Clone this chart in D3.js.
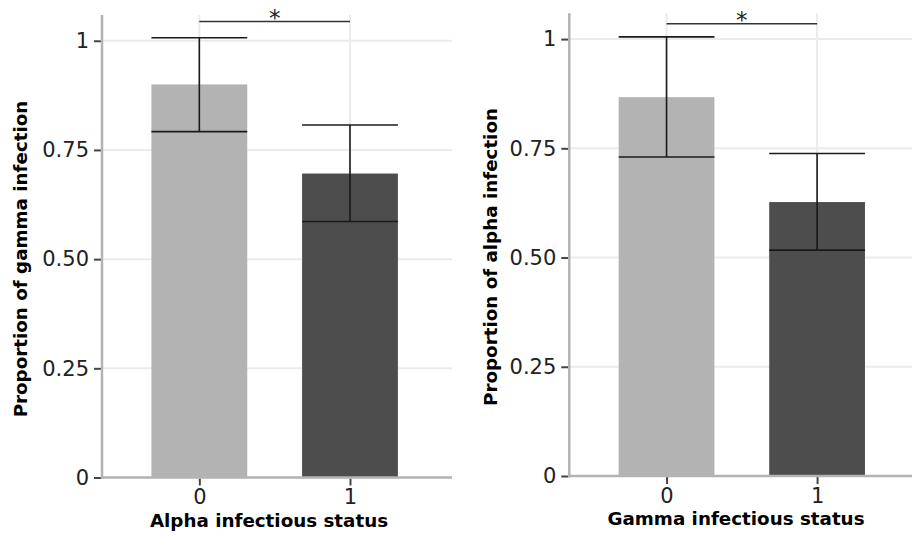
<!DOCTYPE html>
<html>
<head>
<meta charset="utf-8">
<script src="https://cdn.jsdelivr.net/npm/d3@7"></script>
<style>
  html, body { margin: 0; padding: 0; background: #fff; }
  svg { display: block; }
</style>
</head>
<body>
<svg id="chart" width="912" height="536"></svg>
<script>
// ---------- data ----------
const categories = ["0", "1"];

// Left panel: proportion of gamma infection by alpha infectious status
const gammaProp  = [0.900, 0.696];
const gammaLower = [0.792, 0.586];
const gammaUpper = [1.007, 0.807];
const gammaSig   = 1.044;

// Right panel: proportion of alpha infection by gamma infectious status
const alphaProp  = [0.867, 0.627];
const alphaLower = [0.730, 0.517];
const alphaUpper = [1.005, 0.738];
const alphaSig   = 1.035;

const yTickValues = [0, 0.25, 0.5, 0.75, 1];
const yTickLabels = ["0", "0.25", "0.50", "0.75", "1"];
const barColors   = ["#b3b3b3", "#4d4d4d"];
const sigLabel    = "*";

const titles = {
  left:  { x: "Alpha infectious status", y: "Proportion of gamma infection" },
  right: { x: "Gamma infectious status", y: "Proportion of alpha infection" }
};

// ---------- drawing ----------
const svg = d3.select("#chart");
const FONT = "'DejaVu Sans', Verdana, sans-serif";

function panel(opt) {
  const g = svg.append("g");
  const x = d3.scaleLinear().domain([-0.646, 1.677]).range([opt.x0, opt.x1]);
  const y = d3.scaleLinear().domain([0, 1.059]).range([opt.yBot, opt.yTop]);
  const halfW = 0.318;

  // gridlines
  g.selectAll("line.hgrid").data(yTickValues).join("line")
    .attr("x1", opt.x0).attr("x2", opt.x1)
    .attr("y1", d => y(d)).attr("y2", d => y(d))
    .attr("stroke", "#ebebeb").attr("stroke-width", 2);
  g.selectAll("line.vgrid").data(categories).join("line")
    .attr("x1", (d, i) => x(i)).attr("x2", (d, i) => x(i))
    .attr("y1", opt.yTop).attr("y2", opt.yBot)
    .attr("stroke", "#ebebeb").attr("stroke-width", 2);

  // bars
  g.selectAll("rect.bar").data(opt.values).join("rect")
    .attr("x", (d, i) => x(i - halfW))
    .attr("width", (d, i) => x(i + halfW) - x(i - halfW))
    .attr("y", d => y(d))
    .attr("height", d => y(0) - y(d))
    .attr("fill", (d, i) => barColors[i]);

  // error bars
  const eb = g.selectAll("g.err").data(opt.values.map((v, i) => ({ i, lo: opt.lower[i], hi: opt.upper[i] })))
    .join("g").attr("stroke", "#1a1a1a").attr("stroke-width", 1.6);
  eb.append("line")
    .attr("x1", d => x(d.i)).attr("x2", d => x(d.i))
    .attr("y1", d => y(d.lo)).attr("y2", d => y(d.hi));
  eb.append("line")
    .attr("x1", d => x(d.i - halfW)).attr("x2", d => x(d.i + halfW))
    .attr("y1", d => y(d.hi)).attr("y2", d => y(d.hi));
  eb.append("line")
    .attr("x1", d => x(d.i - halfW)).attr("x2", d => x(d.i + halfW))
    .attr("y1", d => y(d.lo)).attr("y2", d => y(d.lo));

  // significance bracket
  g.append("line")
    .attr("x1", x(0)).attr("x2", x(1))
    .attr("y1", y(opt.sig)).attr("y2", y(opt.sig))
    .attr("stroke", "#333").attr("stroke-width", 1.4);
  g.append("text")
    .attr("x", x(0.5)).attr("y", y(opt.sig) + 4)
    .attr("text-anchor", "middle")
    .attr("font-family", FONT).attr("font-size", 23).attr("fill", "#222")
    .text(sigLabel);

  // y axis
  const yAxis = d3.axisLeft(y).tickValues(yTickValues)
    .tickFormat((d, i) => yTickLabels[i]).tickSize(7).tickPadding(5);
  const ya = g.append("g").attr("transform", `translate(${opt.x0 - 1},0)`).call(yAxis);
  ya.select(".domain").remove();
  ya.selectAll(".tick line").attr("stroke", "#444").attr("stroke-width", 2);
  ya.selectAll(".tick text").attr("font-family", FONT).attr("font-size", 21).attr("fill", "#222");

  // x axis
  const xAxis = d3.axisBottom(x).tickValues([0, 1])
    .tickFormat((d, i) => categories[i]).tickSize(7).tickPadding(4);
  const xa = g.append("g").attr("transform", `translate(0,${opt.yBot + 1})`).call(xAxis);
  xa.select(".domain").remove();
  xa.selectAll(".tick line").attr("stroke", "#444").attr("stroke-width", 2);
  xa.selectAll(".tick text").attr("font-family", FONT).attr("font-size", 21).attr("fill", "#222");

  // axis lines
  g.append("line").attr("x1", opt.x0).attr("x2", opt.x0)
    .attr("y1", opt.yTop).attr("y2", opt.yBot + 1.5)
    .attr("stroke", "#b3b3b3").attr("stroke-width", 2.5);
  g.append("line").attr("x1", opt.x0).attr("x2", opt.x1)
    .attr("y1", opt.yBot).attr("y2", opt.yBot)
    .attr("stroke", "#b3b3b3").attr("stroke-width", 2.5);

  // titles
  g.append("text")
    .attr("x", opt.xtX).attr("y", opt.xtY)
    .attr("text-anchor", "middle")
    .attr("font-family", FONT).attr("font-weight", "bold").attr("font-size", 18.3).attr("fill", "#000")
    .text(opt.xTitle);
  g.append("text")
    .attr("transform", `translate(${opt.ytX},${opt.ytY}) rotate(-90)`)
    .attr("text-anchor", "middle").attr("dy", "0.35em")
    .attr("font-family", FONT).attr("font-weight", "bold").attr("font-size", 18.3).attr("fill", "#000")
    .text(opt.yTitle);
}

panel({
  x0: 102, x1: 452, yTop: 15, yBot: 477.5,
  values: gammaProp, lower: gammaLower, upper: gammaUpper, sig: gammaSig,
  xTitle: titles.left.x, yTitle: titles.left.y,
  xtX: 269, xtY: 527, ytX: 21, ytY: 259
});
panel({
  x0: 569.3, x1: 919, yTop: 13.3, yBot: 476,
  values: alphaProp, lower: alphaLower, upper: alphaUpper, sig: alphaSig,
  xTitle: titles.right.x, yTitle: titles.right.y,
  xtX: 736, xtY: 525, ytX: 491, ytY: 257
});
</script>
</body>
</html>
